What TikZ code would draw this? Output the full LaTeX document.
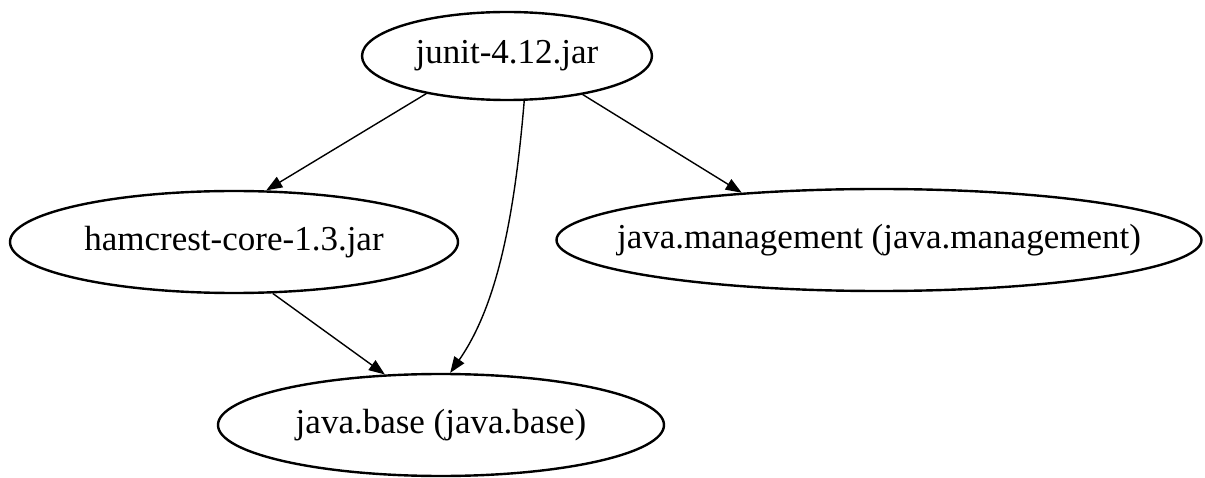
\documentclass[tikz,border=0pt]{standalone}
\usepackage{fontspec}
\setmainfont{Liberation Serif}
\usetikzlibrary{shapes.geometric,arrows.meta}
\begin{document}
\begin{tikzpicture}[x=1pt,y=-1pt,
  modnode/.style={ellipse,draw,line width=2.4pt,inner sep=0pt,font=\fontsize{35}{40}\selectfont},
  dep/.style={line width=1.4pt,-{Triangle[length=16pt,width=12pt]}}]
\fill[white] (0,0) rectangle (1205,478);
\useasboundingbox (0,0) rectangle (1205,478);
\node[modnode,minimum width=290pt,minimum height=88pt] (j) at (507,56) {\makebox[0pt]{junit-4.12.jar}};
\node[modnode,minimum width=448pt,minimum height=102pt] (h) at (234,242) {\makebox[0pt]{hamcrest-core-1.3.jar}};
\node[modnode,minimum width=645pt,minimum height=102pt] (m) at (879,240) {\makebox[0pt]{java.management (java.management)}};
\node[modnode,minimum width=446pt,minimum height=102pt] (b) at (441,425) {\makebox[0pt]{java.base (java.base)}};
\draw[dep] (j.205) -- (h.58);
\draw[dep] (j.333) -- (m.161);
\draw[dep] (j.291) .. controls +(-10,120) and +(46,-66) .. (b.80);
\draw[dep] (h.307) -- (b.138);
\end{tikzpicture}
\end{document}
